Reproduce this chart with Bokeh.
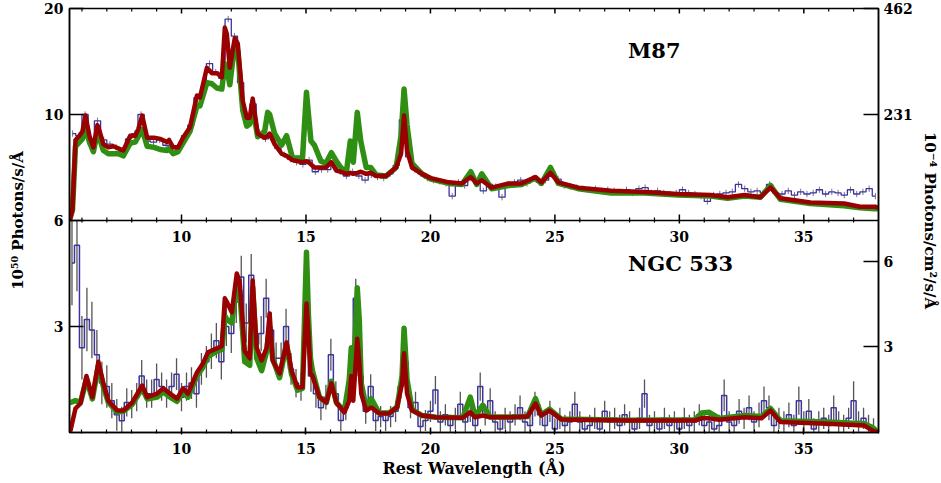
import numpy as np
from bokeh.plotting import figure
from bokeh.models import Range1d, LinearAxis, FixedTicker, SingleIntervalTicker, Span, Label
from bokeh.core.properties import value
from bokeh.embed import file_html
from bokeh.resources import INLINE

# ---------------- M87 (upper panel) ----------------
m87_wl = [5.50, 5.62, 5.74, 5.90, 6.02, 6.14, 6.30, 6.46, 6.62, 6.70, 6.86, 7.06, 7.26, 7.46, 7.66,
          7.94, 8.14, 8.26, 8.42, 8.62, 8.90, 9.14, 9.42, 9.50, 9.66, 9.86, 10.06, 10.34, 10.62, 10.74,
          11.02, 11.22, 11.42, 11.62, 11.74, 11.82, 11.94, 12.14, 12.26, 12.46, 12.62, 12.74, 12.86,
          13.06, 13.34, 13.46, 13.54, 13.74, 14.02, 14.22, 14.46, 14.86, 15.02, 15.10, 15.20, 15.34,
          15.60, 15.80, 16.02, 16.22, 16.40, 16.62, 16.78, 16.90, 17.06, 17.20, 17.42, 17.60, 17.82,
          18.22, 18.62, 18.82, 18.94, 19.06, 19.26, 19.66, 20.02, 20.74, 21.26, 21.62, 21.86, 22.06,
          22.46, 23.14, 23.66, 24.22, 24.46, 24.82, 25.14, 25.94, 27.26, 28.62, 29.94, 31.26, 31.94,
          32.62, 33.26, 33.66, 34.06, 35.26, 36.62, 37.26, 37.86, 38.00]
m87_red = [0.0, 1.0, 7.6, 8.0, 8.4, 9.9, 8.0, 6.9, 9.0, 8.5, 7.2, 6.9, 7.0, 6.8, 6.6,
           8.0, 8.0, 8.6, 9.9, 7.8, 7.8, 7.7, 7.4, 7.6, 6.9, 6.9, 7.8, 8.8, 11.8, 11.6,
           14.4, 13.9, 13.9, 13.5, 18.2, 17.6, 14.4, 17.2, 16.7, 11.3, 9.7, 9.7, 11.5,
           8.2, 7.8, 8.0, 8.2, 7.2, 6.3, 6.1, 5.7, 5.5, 5.6, 5.5, 5.3, 5.0,
           5.0, 5.0, 5.5, 4.7, 4.6, 4.4, 4.5, 4.4, 4.5, 4.6, 4.4, 4.5, 4.2,
           4.2, 5.0, 6.3, 9.9, 6.6, 5.0, 4.4, 4.0, 3.6, 3.5, 4.1, 3.5, 3.8,
           3.1, 3.5, 3.5, 4.1, 3.6, 4.5, 3.6, 3.1, 2.8, 2.7, 2.5, 2.4, 2.2,
           2.4, 2.2, 3.1, 2.1, 1.7, 1.6, 1.3, 1.3, 1.2]
m87_green = [0.0, 1.0, 7.0, 7.4, 7.7, 8.8, 7.4, 6.5, 8.3, 7.8, 6.6, 6.3, 6.3, 6.3, 6.1,
             7.3, 7.4, 7.9, 8.6, 7.0, 6.9, 6.7, 6.6, 6.8, 6.3, 6.5, 7.3, 8.4, 10.8, 10.8,
             13.0, 12.9, 12.5, 12.4, 14.8, 14.4, 12.8, 16.7, 16.0, 10.4, 8.9, 9.1, 10.6,
             7.9, 8.4, 10.2, 10.0, 8.2, 7.1, 8.0, 5.9, 5.9, 12.1, 10.0, 7.5, 7.1,
             5.6, 5.4, 6.4, 5.6, 5.0, 4.5, 7.5, 5.5, 10.2, 7.5, 5.0, 5.0, 4.3,
             4.2, 5.0, 8.0, 12.4, 9.0, 5.4, 4.4, 3.9, 3.5, 3.4, 4.6, 3.4, 4.4,
             3.0, 3.3, 3.4, 4.0, 3.5, 5.0, 3.5, 3.0, 2.6, 2.6, 2.4, 2.3, 2.1,
             2.3, 2.2, 3.3, 2.0, 1.6, 1.4, 1.2, 1.1, 1.1]
m87_bin_start = 5.5
m87_bin_width = 0.25
m87_data = [8.2, 8.0, 10.0, 7.2, 9.4, 7.6, 7.2, 6.9, 6.5, 7.7,
            8.2, 10.0, 7.5, 7.4, 7.6, 7.1, 6.8, 6.7, 8.0, 9.0,
            11.6, 12.2, 14.8, 14.0, 13.4, 19.0, 17.4, 13.0, 10.0, 11.0,
            8.3, 7.7, 7.9, 6.8, 6.2, 5.8, 5.5, 5.3, 5.7, 4.6,
            4.8, 4.8, 5.2, 4.6, 4.2, 4.6, 4.2, 3.8, 4.3, 4.1,
            4.0, 4.4, 5.2, 9.5, 6.0, 4.8, 4.4, 4.0, 3.8, 3.7,
            3.5, 2.3, 3.6, 3.3, 4.0, 3.5, 2.8, 3.4, 3.2, 2.2,
            3.4, 3.6, 3.8, 3.5, 4.0, 3.6, 3.8, 4.6, 3.9, 3.3,
            3.2, 3.1, 3.0, 2.9, 3.0, 2.8, 2.9, 2.8, 2.7, 2.9,
            2.6, 3.0, 3.1, 2.6, 2.8, 2.6, 2.5, 2.6, 2.9, 2.6,
            2.5, 2.3, 1.8, 2.4, 2.5, 2.6, 2.7, 3.4, 3.0, 2.7,
            2.8, 2.6, 3.4, 2.6, 2.5, 2.8, 2.4, 2.7, 2.5, 2.6,
            2.9, 2.5, 2.7, 2.6, 2.4, 2.9, 2.5, 2.7, 3.0, 2.3]
m87_err = 0.3

# ---------------- NGC 533 (lower panel) ----------------
ngc_wl = [5.50, 5.54, 5.74, 5.94, 6.18, 6.42, 6.66, 6.86, 7.06, 7.42, 7.66, 8.02, 8.42, 8.62,
          9.02, 9.26, 9.54, 9.82, 10.06, 10.26, 10.62, 10.86, 11.06, 11.42, 11.62, 11.74, 11.82,
          12.02, 12.22, 12.34, 12.54, 12.74, 12.86, 13.02, 13.22, 13.42, 13.54, 13.66, 13.94,
          14.22, 14.42, 14.66, 14.86, 15.02, 15.10, 15.18, 15.26, 15.54, 15.82, 16.02, 16.22,
          16.54, 16.74, 16.82, 16.90, 17.06, 17.14, 17.22, 17.42, 17.62, 17.94, 18.34, 18.66,
          18.86, 18.94, 19.06, 19.26, 19.66, 20.22, 21.30, 21.60, 21.80, 22.10, 22.40, 23.26,
          23.90, 24.22, 24.45, 24.78, 25.26, 27.94, 30.62, 30.90, 31.20, 31.60, 32.62, 33.30,
          33.66, 34.06, 35.94, 37.42, 37.74, 38.00]
ngc_red = [0.0, 0.06, 0.68, 0.82, 1.6, 1.0, 2.0, 1.4, 0.9, 0.62, 0.62, 0.85, 1.33, 1.0,
           1.1, 1.25, 1.1, 0.96, 1.25, 1.1, 1.7, 1.95, 2.27, 2.38, 2.45, 3.8, 3.7,
           3.4, 4.5, 4.25, 2.3, 2.1, 4.3, 2.4, 2.04, 2.4, 3.37, 2.04, 1.67,
           2.55, 1.75, 1.28, 1.28, 3.65, 2.8, 1.67, 1.6, 1.0, 0.85, 1.39, 0.85,
           0.57, 0.9, 1.6, 0.9, 2.65, 2.0, 1.1, 0.62, 0.71, 0.54, 0.54, 0.71,
           1.39, 2.24, 1.1, 0.62, 0.48, 0.43, 0.42, 0.57, 0.43, 0.48, 0.43, 0.43,
           0.45, 0.82, 0.48, 0.62, 0.37, 0.34, 0.34, 0.40, 0.40, 0.36, 0.43, 0.40,
           0.62, 0.30, 0.25, 0.20, 0.06, 0.0]
ngc_green = [0.85, 0.85, 0.9, 0.85, 1.5, 0.95, 1.9, 1.3, 0.85, 0.58, 0.6, 0.8, 1.25, 0.95,
             1.0, 1.15, 1.0, 0.88, 1.15, 1.0, 1.6, 1.85, 2.15, 2.3, 2.35, 3.3, 3.2,
             3.1, 4.2, 4.0, 2.0, 1.9, 4.1, 2.1, 1.75, 2.3, 3.0, 2.1, 1.55,
             2.5, 1.65, 1.2, 1.25, 5.1, 3.3, 2.1, 1.75, 1.0, 0.85, 1.45, 0.85,
             0.6, 1.5, 2.4, 1.4, 4.1, 3.2, 1.4, 0.7, 0.96, 0.55, 0.55, 0.72,
             1.6, 2.95, 1.5, 0.65, 0.48, 0.43, 0.42, 1.0, 0.45, 0.77, 0.44, 0.44,
             0.45, 0.96, 0.5, 0.66, 0.38, 0.35, 0.36, 0.55, 0.57, 0.40, 0.48, 0.45,
             0.68, 0.33, 0.30, 0.25, 0.15, 0.0]
ngc_bin_start = 5.5
ngc_bin_width = 0.2
ngc_data = [4.8, 5.3, 2.4, 3.2, 2.9, 2.2, 1.4, 1.3, 0.9, 0.5,
            0.33, 0.85, 0.8, 1.0, 1.6, 1.1, 1.1, 1.5, 1.3, 1.1,
            1.3, 1.65, 1.0, 1.3, 1.4, 1.1, 1.8, 2.0, 2.3, 2.6,
            2.0, 3.0, 2.8, 3.7, 4.4, 3.1, 4.45, 2.5, 2.8, 3.8,
            2.9, 2.1, 2.1, 3.0, 1.8, 1.4, 1.3, 3.6, 1.6, 1.1,
            0.7, 1.0, 2.2, 1.1, 0.34, 0.7, 1.5, 3.8, 1.6, 0.6,
            1.3, 0.34, 0.45, 0.34, 0.45, 0.6, 1.3, 2.0, 0.7, 0.85,
            0.17, 0.34, 0.6, 1.2, 0.3, 0.5, 0.2, 0.4, 0.8, 0.3,
            0.6, 0.2, 1.3, 0.5, 0.9, 0.3, 0.1, 0.4, 0.3, 0.5,
            0.7, 0.3, 0.2, 0.8, 0.5, 0.2, 0.6, 0.1, 0.4, 0.2,
            0.3, 0.8, 0.3, 0.1, 0.2, 0.4, 0.1, 0.6, 0.3, 0.4,
            0.2, 0.5, 0.3, 0.1, 0.4, 1.1, 0.2, 0.3, 0.1, 0.4,
            0.2, 0.3, 0.1, 0.4, 0.2, 0.3, 0.5, 0.2, 0.3, 0.1,
            0.2, 1.05, 0.3, 0.2, 0.6, 0.4, 0.7, 0.3, 0.5, 0.9,
            0.7, 0.2, 0.4, 0.3, 0.5, 0.2, 0.9, 0.3, 0.6, 0.1,
            0.3, 0.4, 0.2, 0.7, 0.3, 0.2, 0.4, 0.9, 0.3, 0.4,
            0.2, 0.1]
ngc_err = [1.2, 1.3, 0.9, 0.9, 0.8, 0.7, 0.6, 0.6, 0.5, 0.45,
           0.4, 0.4, 0.4, 0.4, 0.45, 0.4, 0.4, 0.45, 0.4, 0.4,
           0.4, 0.45, 0.4, 0.4, 0.45, 0.4, 0.45, 0.45, 0.5, 0.5,
           0.5, 0.55, 0.55, 0.6, 0.6, 0.55, 0.6, 0.5, 0.5, 0.55,
           0.5, 0.45, 0.45, 0.5, 0.45, 0.4, 0.4, 0.55, 0.45, 0.4,
           0.35, 0.35, 0.45, 0.35, 0.3, 0.35, 0.4, 0.55, 0.4, 0.35,
           0.35, 0.3, 0.3, 0.3, 0.3, 0.3, 0.35, 0.4, 0.3, 0.3,
           0.3, 0.3, 0.3, 0.4, 0.3, 0.3, 0.3, 0.3, 0.35, 0.3,
           0.3, 0.3, 0.4, 0.3, 0.35, 0.3, 0.3, 0.3, 0.3, 0.3,
           0.35, 0.3, 0.3, 0.35, 0.3, 0.3, 0.3, 0.3, 0.3, 0.3,
           0.3, 0.35, 0.3, 0.3, 0.3, 0.3, 0.3, 0.3, 0.3, 0.3,
           0.3, 0.3, 0.3, 0.3, 0.3, 0.4, 0.3, 0.3, 0.3, 0.3,
           0.3, 0.3, 0.3, 0.3, 0.3, 0.3, 0.3, 0.3, 0.3, 0.3,
           0.3, 0.45, 0.3, 0.3, 0.35, 0.3, 0.35, 0.3, 0.35, 0.4,
           0.35, 0.3, 0.3, 0.3, 0.35, 0.3, 0.4, 0.3, 0.35, 0.3,
           0.3, 0.3, 0.3, 0.35, 0.3, 0.3, 0.3, 0.55, 0.3, 0.3,
           0.3, 0.3]

# ---------------- axes ----------------
x_min, x_max = 5.5, 38.0
x_tick_labels = [10, 15, 20, 25, 30, 35]
m87_left_max, m87_right_max = 20, 462
m87_left_ticks = [10, 20]
m87_right_ticks = [231, 462]
ngc_left_max, ngc_right_max = 6, 7.43
ngc_left_ticks = [3, 6]
ngc_right_ticks = [3, 6]

SERIF = "DejaVu Serif"
RED = "#990000"
GREEN = "#2f8f12"
BLUE = "#3c33a0"

p = figure(width=941, height=483, x_range=Range1d(x_min, x_max), y_range=Range1d(0, 12),
           output_backend="svg", toolbar_location=None,
           x_axis_location=None, y_axis_location=None,
           min_border_left=69, min_border_right=61, min_border_top=8, min_border_bottom=51)
p.extra_y_ranges = {"top": Range1d(-m87_left_max, m87_left_max)}
p.grid.visible = False
p.outline_line_color = "black"
p.outline_line_width = 1.5
p.background_fill_color = "white"
p.border_fill_color = "white"

def low_pos(v, vmax):
    return v * 6.0 / vmax
def top_pos(v, vmax):
    return 6.0 + v * 6.0 / vmax

# ---- M87 drawing (top range) ----
m87_c = m87_bin_start + m87_bin_width * (np.arange(len(m87_data)) + 0.5)
m87_d = np.array(m87_data)
p.segment(x0=m87_c, y0=m87_d - m87_err, x1=m87_c, y1=m87_d + m87_err,
          line_color="#777777", line_width=1, y_range_name="top")
p.step(x=m87_c, y=m87_d, mode="center", line_color=BLUE, line_width=1.3, y_range_name="top")
p.line(m87_wl, m87_green, line_color=GREEN, line_width=5.5, line_join="round", y_range_name="top")
p.line(m87_wl, m87_red, line_color=RED, line_width=4.5, line_join="round", y_range_name="top")

# ---- NGC 533 drawing (default range) ----
ngc_c = ngc_bin_start + ngc_bin_width * (np.arange(len(ngc_data)) + 0.5)
ngc_d = np.array(ngc_data)
ngc_e = np.array(ngc_err)
p.segment(x0=ngc_c, y0=np.clip(ngc_d - ngc_e, 0, ngc_left_max), x1=ngc_c,
          y1=np.clip(ngc_d + ngc_e, 0, ngc_left_max),
          line_color="#555555", line_width=1.3)
p.step(x=ngc_c, y=np.clip(ngc_d, 0, ngc_left_max), mode="center", line_color=BLUE, line_width=1.5)
p.line(ngc_wl, np.clip(ngc_green, 0, ngc_left_max), line_color=GREEN, line_width=5.5, line_join="round")
p.line(ngc_wl, np.clip(ngc_red, 0, ngc_left_max), line_color=RED, line_width=4.5, line_join="round")

# divider between panels, with its ticks and labels
p.add_layout(Span(location=6, dimension="width", line_color="black", line_width=1.5))
px_unit = 12.0 / 424.0
maj = [t for t in range(6, 38) if t % 5 == 0]
mnr = [t for t in range(6, 38) if t % 5 != 0]
p.segment(x0=maj, y0=[6 - 3 * px_unit] * len(maj), x1=maj, y1=[6 + 6 * px_unit] * len(maj),
          line_color="black", line_width=1.5)
p.segment(x0=mnr, y0=[6 - 2 * px_unit] * len(mnr), x1=mnr, y1=[6 + 3 * px_unit] * len(mnr),
          line_color="black", line_width=1.2)
# ticks along the top edge (pointing inward)
p.segment(x0=maj, y0=[12] * len(maj), x1=maj, y1=[12 - 5 * px_unit] * len(maj),
          line_color="black", line_width=1.5)
p.segment(x0=mnr, y0=[12] * len(mnr), x1=mnr, y1=[12 - 3 * px_unit] * len(mnr),
          line_color="black", line_width=1.2)
p.text(x=x_tick_labels, y=[6 - 10 * px_unit] * len(x_tick_labels), text=[str(t) for t in x_tick_labels],
       text_align="center", text_baseline="top", text_font=value(SERIF), text_font_style="bold",
       text_font_size="14px", text_color="black")

def style_axis(ax):
    ax.axis_line_color = "black"
    ax.axis_line_width = 1.5
    ax.major_tick_line_color = "black"
    ax.major_tick_line_width = 1.5
    ax.minor_tick_line_color = "black"
    ax.minor_tick_line_width = 1.2
    ax.major_label_text_font = SERIF
    ax.major_label_text_font_style = "bold"
    ax.major_label_text_font_size = "14px"
    ax.major_label_text_color = "black"
    ax.axis_label_text_font = SERIF
    ax.axis_label_text_font_style = "bold"
    ax.axis_label_text_font_size = "15px"
    ax.axis_label_text_color = "black"

xb = LinearAxis(ticker=SingleIntervalTicker(interval=5, num_minor_ticks=5),
                axis_label="Rest Wavelength (Å)")
style_axis(xb)
xb.major_tick_in = 5; xb.major_tick_out = 2
xb.minor_tick_in = 3; xb.minor_tick_out = 1
xb.major_label_standoff = 8
xb.axis_label_standoff = 2
xb.axis_label_text_font_size = "16px"
p.add_layout(xb, "below")

l_ticks = [low_pos(v, ngc_left_max) for v in ngc_left_ticks] + [top_pos(v, m87_left_max) for v in m87_left_ticks]
l_labels = [str(v) for v in ngc_left_ticks] + [str(v) for v in m87_left_ticks]
yl = LinearAxis(ticker=FixedTicker(ticks=l_ticks, minor_ticks=[]),
                major_label_overrides={t: s for t, s in zip(l_ticks, l_labels)},
                axis_label="10⁵⁰ Photons/s/Å")
style_axis(yl)
yl.major_tick_in = 14; yl.major_tick_out = 0
yl.major_label_standoff = 6
yl.axis_label_standoff = 14
p.add_layout(yl, "left")

r_ticks = [round(low_pos(v, ngc_right_max), 6) for v in ngc_right_ticks] + \
          [round(top_pos(v, m87_right_max), 6) for v in m87_right_ticks]
r_labels = [str(v) for v in ngc_right_ticks] + [str(v) for v in m87_right_ticks]
yr = LinearAxis(ticker=FixedTicker(ticks=r_ticks, minor_ticks=[]),
                major_label_overrides={t: s for t, s in zip(r_ticks, r_labels)},
                axis_label="10⁻⁴ Photons/cm²/s/Å")
style_axis(yr)
yr.major_tick_in = 15; yr.major_tick_out = 0
yr.major_label_standoff = 5
yr.axis_label_standoff = 5
p.add_layout(yr, "right")

p.add_layout(Label(x=27.94, y=16.0, y_range_name="top", text="M87", text_font=SERIF,
                   text_font_style="bold", text_font_size="21px", text_baseline="alphabetic",
                   text_color="black"))
p.add_layout(Label(x=27.94, y=4.78, text="NGC 533", text_font=SERIF,
                   text_font_style="bold", text_font_size="21px", text_baseline="alphabetic",
                   text_color="black"))

open("out.html", "w").write(file_html(p, INLINE))
